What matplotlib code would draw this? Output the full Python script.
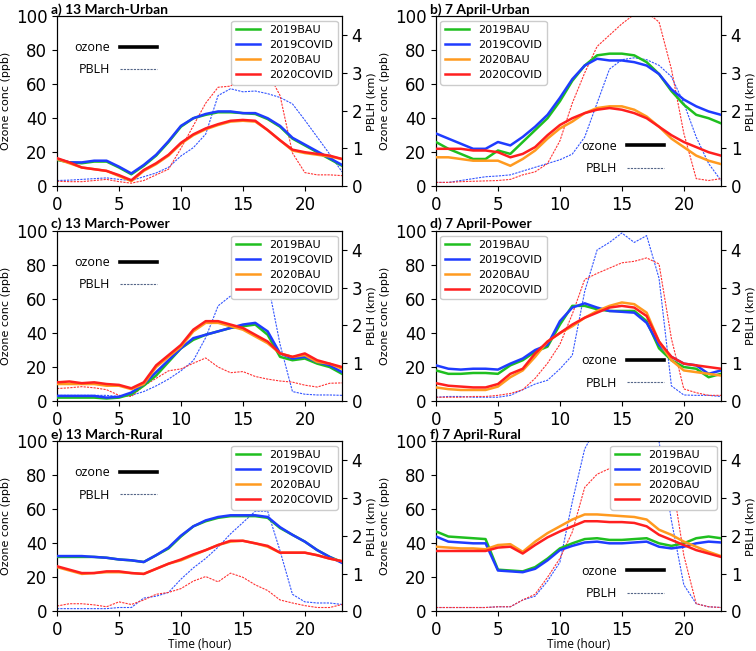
import numpy as np
import matplotlib.pyplot as plt
from matplotlib.lines import Line2D

plt.rcParams['font.family'] = ['DejaVu Sans']

hours = list(range(24))
scenarios = ['2019BAU', '2019COVID', '2020BAU', '2020COVID']
titles = ['a) 13 March-Urban', 'b) 7 April-Urban', 'c) 13 March-Power',
          'd) 7 April-Power', 'e) 13 March-Rural', 'f) 7 April-Rural']

# ozone (ppb), panel a
a_bau19 = [15.5, 14, 13.5, 14.5, 14.5, 11, 7, 12, 18, 26, 35, 40, 42, 43.5, 43.5, 43, 42.5, 39.5, 35, 28, 24, 20, 16, 12]
a_cov19 = [16, 14, 14, 15, 15, 11.5, 7.5, 12.5, 18.5, 26.5, 35.5, 40, 42.5, 44, 44, 43, 43, 40, 35.5, 28.5, 24.5, 20.5, 16.5, 12.5]
a_bau20 = [16, 13.5, 11, 10, 9, 6, 3, 9, 13, 18, 25, 30, 33.5, 36, 38, 38.5, 38, 33, 27, 21, 19.5, 18.5, 17.5, 16]
a_cov20 = [16.5, 14, 11, 10, 9, 6.5, 3.5, 9.5, 13.5, 18.5, 25.5, 30.5, 34, 36.5, 38.5, 39, 38.5, 33, 27, 21.5, 20, 19, 18, 16]
# PBLH (km), panel a
a_pblh19 = [0.15, 0.16, 0.18, 0.2, 0.22, 0.18, 0.15, 0.25, 0.35, 0.5, 0.8, 1.02, 1.38, 2.4, 2.58, 2.5, 2.52, 2.45, 2.35, 2.18, 1.75, 1.3, 0.85, 0.38]
a_pblh20 = [0.13, 0.12, 0.12, 0.15, 0.18, 0.12, 0.08, 0.15, 0.3, 0.45, 1.0, 1.6, 2.2, 2.62, 2.65, 2.9, 3.08, 3.02, 2.4, 0.88, 0.36, 0.3, 0.3, 0.28]

# panel b
b_bau19 = [26, 22, 19, 16, 16, 21, 19, 26, 33, 40, 50, 62, 71, 77, 78, 78, 77, 73, 66, 56, 48, 42, 40, 37]
b_cov19 = [31, 28, 25, 22, 22, 26, 24, 29, 35, 42, 52, 63, 71, 75, 74, 74, 73, 71, 66, 57, 51, 47, 44, 42]
b_bau20 = [17, 17, 16, 15, 15, 15, 12, 16, 21, 28, 34, 38, 43, 46, 47, 47, 45, 41, 35, 28, 23, 18, 15, 13]
b_cov20 = [22, 22, 22, 21, 21, 20, 17, 19, 23, 30, 36, 40, 43, 45, 46, 45, 43, 40, 35, 30, 26, 23, 20, 18]
b_pblh19 = [0.1, 0.1, 0.15, 0.2, 0.25, 0.27, 0.3, 0.4, 0.5, 0.6, 0.7, 0.85, 1.3, 2.2, 3.1, 3.35, 3.4, 3.35, 3.2, 2.9, 2.2, 1.3, 0.6, 0.15]
b_pblh20 = [0.1, 0.1, 0.12, 0.13, 0.14, 0.15, 0.18, 0.3, 0.38, 0.6, 1.2, 2.2, 3.0, 3.7, 4.0, 4.3, 4.55, 4.6, 4.35, 3.1, 1.4, 0.2, 0.15, 0.2]

# panel c
c_bau19 = [2, 2, 2, 2, 1.5, 2, 4, 9, 15, 23, 31, 36, 39, 41, 43, 44, 45, 39, 26, 24, 25, 22, 20, 16]
c_cov19 = [3, 3, 3, 3, 2, 2.5, 5, 10, 17, 24, 31, 37, 39, 41, 43, 45, 46, 41, 28, 25, 26, 23, 21, 17]
c_bau20 = [10, 10, 10, 10, 9, 9, 7, 10, 20, 26, 32, 41, 46, 46, 44, 42, 38, 34, 28, 26, 27, 23, 22, 19]
c_cov20 = [11, 11.5, 10.5, 11, 10, 9.5, 7.5, 11, 21, 27, 33, 42, 47, 47, 45, 43, 39, 35, 28, 26, 28, 24, 22, 20]
c_pblh19 = [0.15, 0.15, 0.15, 0.15, 0.15, 0.12, 0.15, 0.25, 0.4, 0.58, 0.8, 1.07, 1.68, 2.52, 2.78, 2.98, 3.15, 3.16, 1.5, 0.25, 0.18, 0.16, 0.16, 0.15]
c_pblh20 = [0.33, 0.35, 0.38, 0.35, 0.3, 0.15, 0.12, 0.4, 0.6, 0.8, 0.85, 1.0, 1.14, 0.9, 0.75, 0.78, 0.65, 0.58, 0.53, 0.5, 0.42, 0.37, 0.47, 0.48]

# panel d
d_bau19 = [18, 16, 16, 16.5, 16.5, 16, 21, 24, 29, 32, 45, 56, 56, 54, 53, 53, 53, 47, 31, 24, 20, 19, 14, 16]
d_cov19 = [21, 19, 18.5, 19, 19, 18.5, 22, 25, 30, 33, 47, 55, 57.5, 55, 53, 52.5, 52, 46, 33, 26, 22, 21, 16, 18]
d_bau20 = [8, 7, 6.5, 6.5, 6.5, 8.5, 14, 18, 26, 35, 40, 44, 49, 53, 56, 58, 57, 52, 35, 24, 18, 17, 16, 15]
d_cov20 = [10.5, 9, 8.5, 8, 8, 10, 16, 19, 28, 35, 40, 45, 49, 52, 55, 56, 55, 50, 35, 26, 22, 21, 20, 19]
d_pblh19 = [0.1, 0.12, 0.12, 0.1, 0.1, 0.1, 0.15, 0.3, 0.45, 0.55, 0.85, 1.21, 2.9, 4.0, 4.2, 4.45, 4.2, 4.38, 3.25, 0.4, 0.16, 0.15, 0.15, 0.12]
d_pblh20 = [0.1, 0.1, 0.1, 0.12, 0.12, 0.15, 0.2, 0.3, 0.6, 1.0, 1.5, 2.3, 3.22, 3.38, 3.52, 3.66, 3.7, 3.79, 3.63, 1.65, 0.32, 0.22, 0.15, 0.15]

# panel e
e_bau19 = [32, 32, 32, 32, 31.5, 30.5, 30, 29, 33, 37, 44, 50, 53, 55, 56, 56, 56, 55, 49, 45, 41, 36, 32, 29]
e_cov19 = [32.5, 32.5, 32.5, 32, 31.5, 30.5, 30, 29, 33, 37.5, 44.5, 50, 53.5, 55.5, 56.5, 56.5, 56.5, 55.5, 49.5, 45, 41, 36, 32, 28.5]
e_bau20 = [26, 24, 22, 22.5, 23, 23, 22.5, 22, 25, 28, 30, 33, 36, 39, 41, 41.5, 40, 38, 34.5, 34.5, 34.5, 33, 31, 29.5]
e_cov20 = [26.5, 24.5, 22.5, 22.5, 23.5, 23.5, 22.5, 22, 25, 28, 30.5, 33.5, 36, 39, 41.5, 41.5, 40, 38.5, 34.5, 34.5, 34.5, 33, 31, 29.5]
e_pblh19 = [0.07, 0.07, 0.07, 0.07, 0.07, 0.1, 0.1, 0.35, 0.4, 0.5, 0.85, 1.15, 1.4, 1.7, 2.05, 2.35, 2.65, 2.65, 1.6, 0.45, 0.25, 0.22, 0.22, 0.18]
e_pblh20 = [0.14, 0.2, 0.2, 0.17, 0.12, 0.25, 0.18, 0.3, 0.45, 0.5, 0.6, 0.8, 0.92, 0.78, 1.01, 0.9, 0.7, 0.55, 0.3, 0.22, 0.15, 0.1, 0.1, 0.18]

# panel f
f_bau19 = [47, 44, 43.5, 43, 42.5, 24.5, 24, 23.5, 26, 31, 37, 40, 42.5, 43, 42, 42, 42.5, 43, 40, 38.5, 40, 43, 44, 43]
f_cov19 = [44, 41, 40.5, 40, 40, 24, 23.5, 23, 25, 30, 36, 38.5, 40.5, 41, 40, 40, 40.5, 41, 38, 37, 38, 40, 41, 40.5]
f_bau20 = [38, 37.5, 37, 37, 36.5, 39, 39.5, 35, 41, 46, 50, 54, 57, 57, 56.5, 56, 55.5, 54, 48, 45, 41, 38, 35, 32.5]
f_cov20 = [35.5, 35.5, 35.5, 35.5, 35.5, 37.5, 38, 34, 39, 43.5, 47, 50, 53, 53, 52.5, 52.5, 52, 50, 45, 42, 39, 36, 34, 32]
f_pblh19 = [0.1, 0.1, 0.1, 0.1, 0.1, 0.12, 0.12, 0.3, 0.4, 0.8, 1.3, 2.9, 4.3, 4.9, 5.3, 5.4, 5.3, 5.0, 4.5, 2.4, 0.7, 0.2, 0.12, 0.1]
f_pblh20 = [0.1, 0.1, 0.1, 0.1, 0.1, 0.12, 0.12, 0.3, 0.45, 0.9, 1.4, 2.1, 3.28, 3.63, 3.78, 3.85, 3.88, 3.88, 3.82, 3.59, 1.48, 0.2, 0.12, 0.1]

ozone = [[a_bau19, a_cov19, a_bau20, a_cov20], [b_bau19, b_cov19, b_bau20, b_cov20],
         [c_bau19, c_cov19, c_bau20, c_cov20], [d_bau19, d_cov19, d_bau20, d_cov20],
         [e_bau19, e_cov19, e_bau20, e_cov20], [f_bau19, f_cov19, f_bau20, f_cov20]]
pblh = [[a_pblh19, a_pblh20], [b_pblh19, b_pblh20], [c_pblh19, c_pblh20],
        [d_pblh19, d_pblh20], [e_pblh19, e_pblh20], [f_pblh19, f_pblh20]]

colors = ['#1fbf1f', '#1f3cff', '#ff9a1f', '#ff1f1f']
pblh_colors = ['#3355ff', '#ff3333']

fig = plt.figure(figsize=(7.56, 6.51), dpi=100)
lefts = [0.0754, 0.5767]
bottoms = [0.714, 0.384, 0.061]
w, h = 0.377, 0.261

# where the legends sit in each panel
scen_loc = ['upper right', 'upper left', 'upper right', 'upper left', 'upper right', 'upper right']
key_anchor = [(0.02, 0.92), (0.84, 0.0), (0.02, 0.92), (0.84, 0.0), (0.02, 0.92), (0.84, 0.0)]
key_loc = ['upper left', 'lower right', 'upper left', 'lower right', 'upper left', 'lower right']

for i in range(6):
    row, col = i // 2, i % 2
    ax = fig.add_axes([lefts[col], bottoms[row], w, h])
    ax2 = ax.twinx()
    for j in range(4):
        ax.plot(hours, ozone[i][j], color=colors[j], lw=1.8, label=scenarios[j], zorder=3)
    for j in range(2):
        ax2.plot(hours, pblh[i][j], color=pblh_colors[j], lw=0.8, ls=(0, (2, 1)))
    ax.set_zorder(ax2.get_zorder() + 1)
    ax.patch.set_visible(False)

    ax.set_xlim(0, 23)
    ax.set_ylim(0, 100)
    ax.set_xticks([0, 5, 10, 15, 20])
    ax.set_yticks(np.arange(0, 101, 20))
    ax2.set_ylim(0, 4.5)
    ax2.set_yticks([0, 1, 2, 3, 4])
    ax.tick_params(labelsize=12)
    ax2.tick_params(labelsize=12)
    ax.set_ylabel('Ozone conc (ppb)', fontsize=8, labelpad=3)
    ax2.set_ylabel('PBLH (km)', fontsize=8, labelpad=3)
    if row == 2:
        ax.set_xlabel('Time (hour)', fontsize=8.5, labelpad=-1,
                      family=['Open Sans', 'DejaVu Sans'])
    ax.set_title(titles[i], loc='left', fontsize=10, fontweight='bold', pad=2, x=-0.02,
                 family=['Lato', 'DejaVu Sans'])

    leg = ax.legend(loc=scen_loc[i], fontsize=8, handlelength=2.2, borderaxespad=0.4,
                    labelspacing=0.45, framealpha=1)
    ax.add_artist(leg)
    keys = [Line2D([], [], color='black', lw=2.6),
            Line2D([], [], color='#556688', lw=0.8, ls=(0, (2, 1)))]
    ax.legend(keys, ['ozone', 'PBLH'], loc=key_loc[i], bbox_to_anchor=key_anchor[i],
              frameon=False, prop={'family': ['Open Sans', 'DejaVu Sans'], 'size': 9},
              markerfirst=False, handlelength=3.0, labelspacing=0.75)

fig.savefig('out.png', dpi=100)
